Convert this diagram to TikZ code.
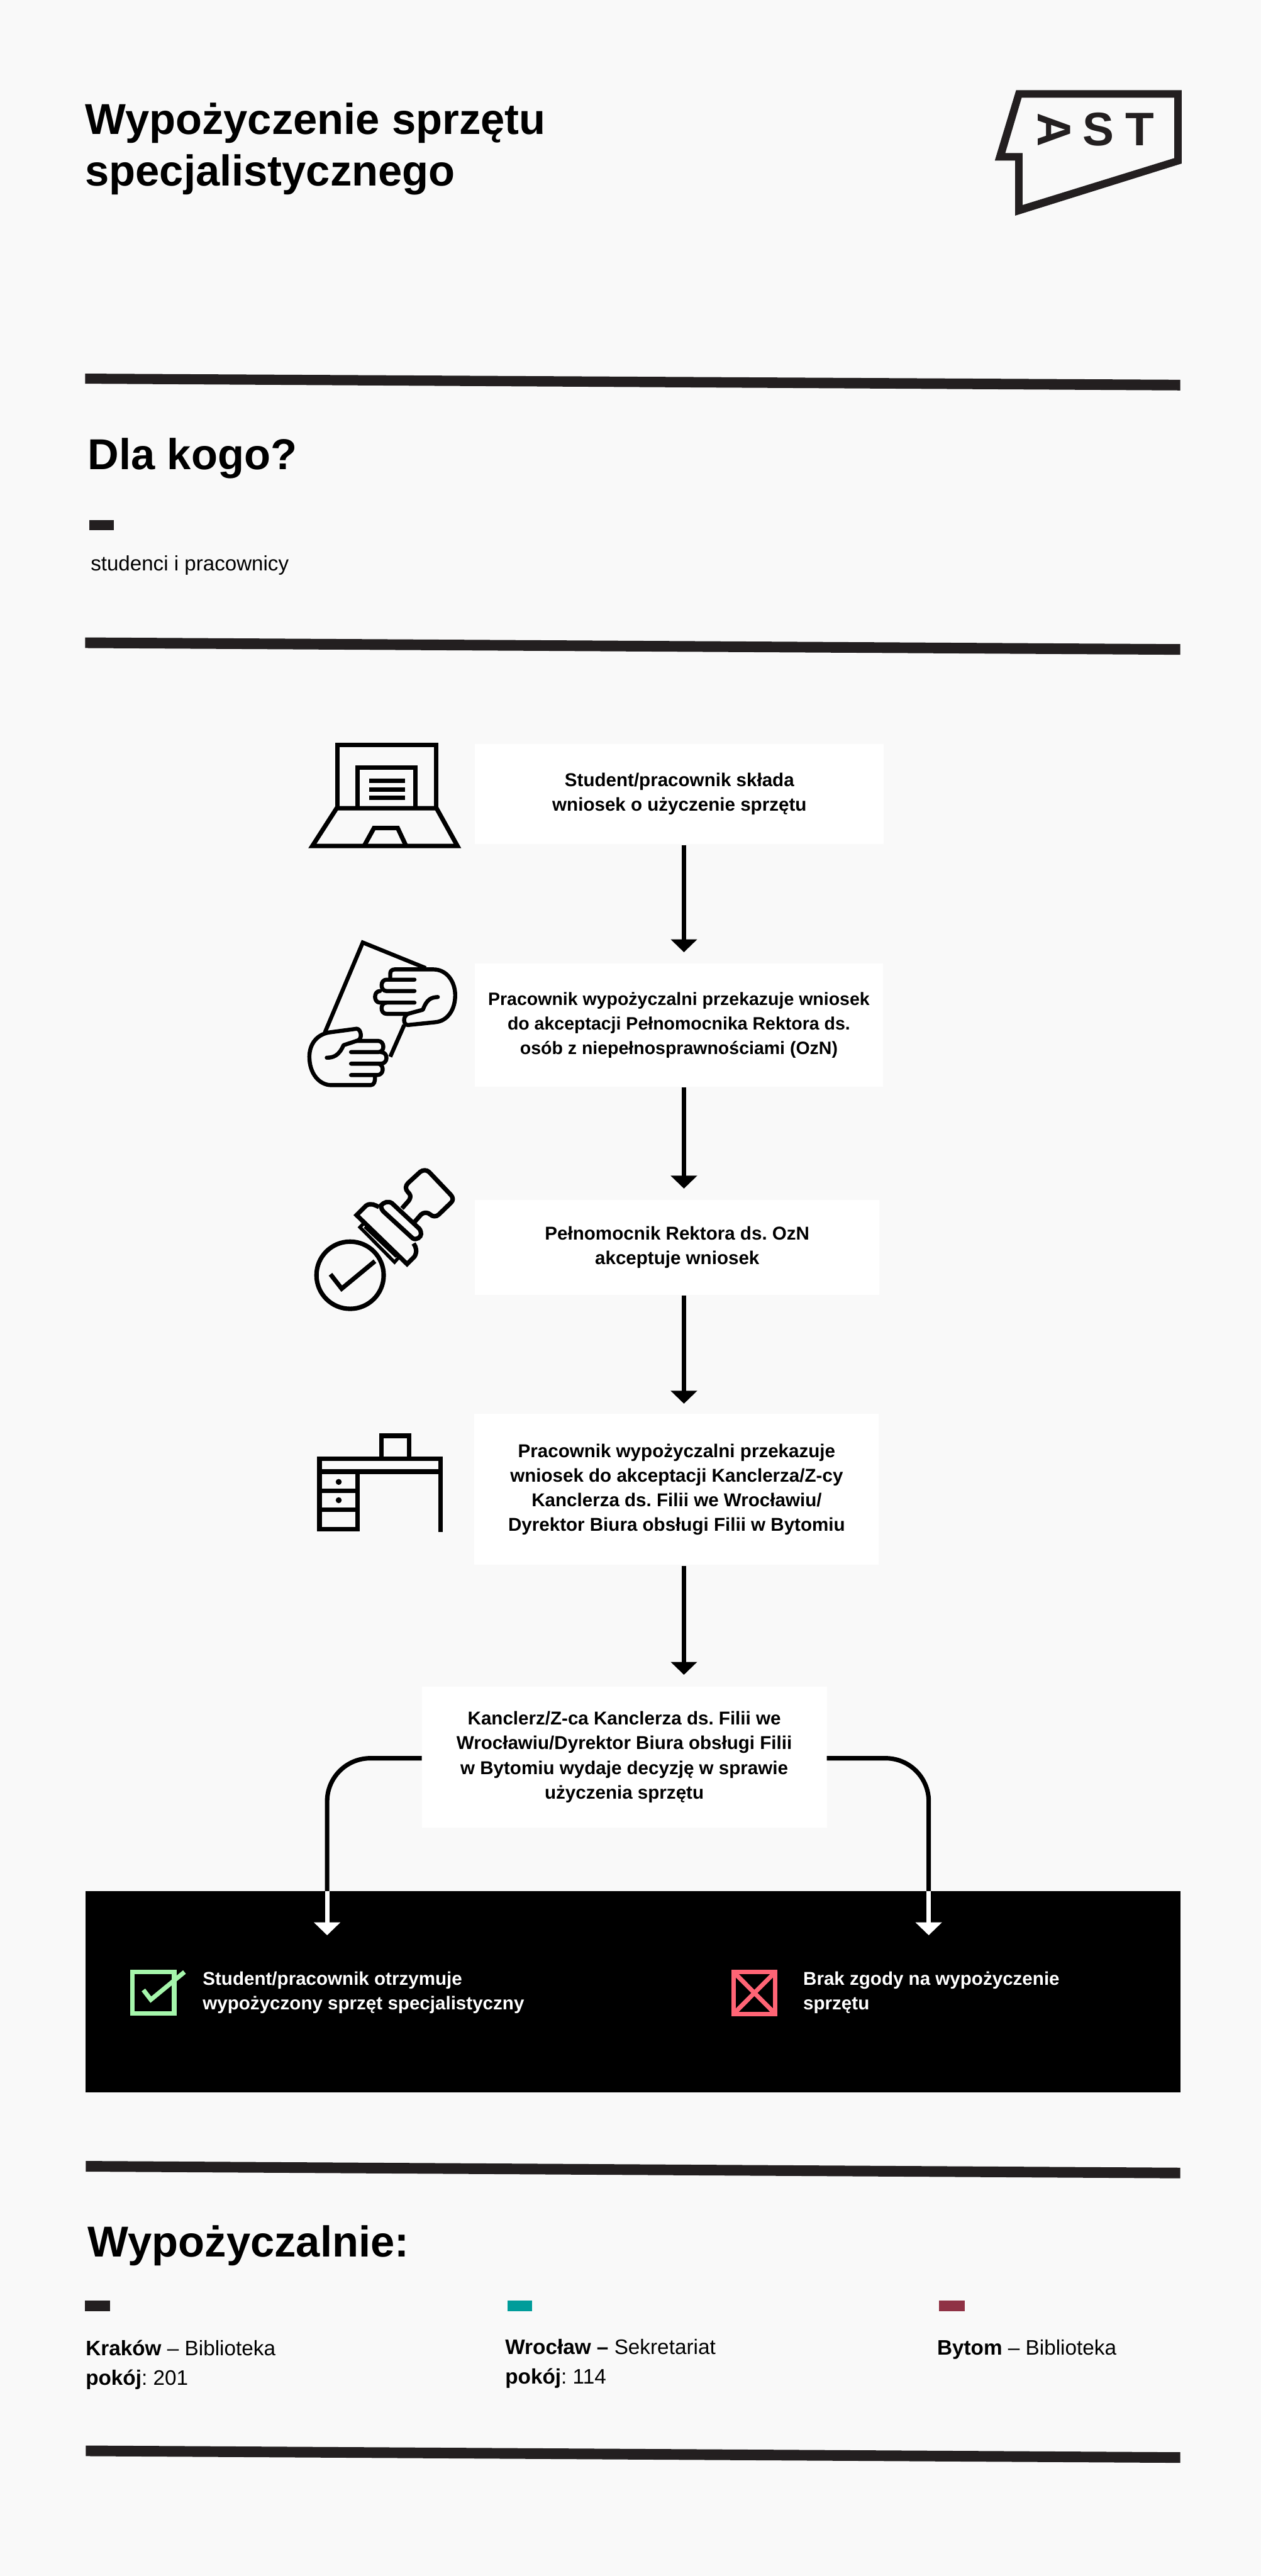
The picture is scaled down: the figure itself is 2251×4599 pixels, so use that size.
\documentclass[tikz,border=0pt]{standalone}
\usepackage{fontspec}
\setmainfont{Liberation Sans}
\usetikzlibrary{arrows.meta}
\frenchspacing
\definecolor{pagebg}{HTML}{F9F9F9}
\definecolor{ink}{HTML}{231F20}
\definecolor{okgreen}{HTML}{A5F6AB}
\definecolor{nored}{HTML}{FF6475}
\definecolor{teal1}{HTML}{009C9A}
\definecolor{maroon1}{HTML}{8F3245}
\tikzset{
  txt/.style={inner sep=0pt,outer sep=0pt,anchor=base west,align=left},
  bigt/.style={txt,font=\fontsize{38.6}{46}\selectfont\bfseries},
  bodyt/.style={txt,font=\fontsize{18.7}{26.2}\selectfont},
  paneltxt/.style={txt,text=white,font=\fontsize{16.6}{22}\selectfont\bfseries},
  stepbox/.style={fill=white,inner sep=0pt,outer sep=0pt,align=center,font=\fontsize{16.6}{22}\selectfont\bfseries},
  logot/.style={inner sep=0pt,outer sep=0pt,text=ink,font=\fontsize{42}{42}\selectfont\bfseries},
  rulebar/.style={fill=ink},
  flow/.style={line width=4pt,shorten <=0.75pt,-{Triangle[length=11.5pt,width=23pt]}},
  whiteflow/.style={line width=4pt,white,-{Triangle[length=11.5pt,width=23pt]}},
  flowline/.style={line width=4pt,rounded corners=38.5pt},
  icon/.style={line width=4pt,miter limit=10},
  handicon/.style={line width=3.6pt,line cap=round,line join=round},
}
\begin{document}
\begin{tikzpicture}[x=0.5pt,y=-0.5pt]
\fill[pagebg] (0,0) rectangle (2251,4599);
\useasboundingbox (0,0) rectangle (2251,4599);
% rules
\fill[rulebar] (152,667) -- (2107,678) -- (2107,697) -- (152,685) -- cycle;
\fill[rulebar] (152,1138) -- (2107,1150) -- (2107,1169) -- (152,1157) -- cycle;
\fill[rulebar] (153,3858) -- (2107,3870) -- (2107,3889) -- (153,3877) -- cycle;
\fill[rulebar] (153,4366) -- (2107,4378) -- (2107,4397) -- (153,4385) -- cycle;
% titles
\node[bigt] (title) at (152,332) {Wypożyczenie sprzętu\\specjalistycznego};
\node[bigt] (dla) at (157,838) {Dla kogo?};
\fill[ink] (159,928) rectangle (203,947);
\node[txt,font=\fontsize{18.6}{22}\selectfont] (kto) at (162,1019) {studenci i pracownicy};
% logo
\begin{scope}[shift={(1700,120)},scale=0.3333]
\fill[ink,even odd rule] (342,123) -- (1229,123) -- (1229,516) -- (337,795) -- (337,500) -- (228,500) -- cycle
  (372,163) -- (1189,163) -- (1189,487) -- (377,738) -- (377,460) -- (284,460) -- cycle;
\node[logot,rotate=-90] (lgA) at (547,334) {A};
\node[logot] (lgS) at (783,334) {S};
\node[logot] (lgT) at (1004,333) {T};
\end{scope}
% boxes
\node[stepbox,minimum width=365pt,minimum height=89.5pt] (b1) at (1213,1417.5) {Student/pracownik składa\\wniosek o użyczenie sprzętu};
\node[stepbox,minimum width=364pt,minimum height=110pt,font=\fontsize{16}{22}\selectfont\bfseries] (b2) at (1212,1830) {Pracownik wypożyczalni przekazuje wniosek\\do akceptacji Pełnomocnika Rektora ds.\\osób z niepełnosprawnościami (OzN)};
\node[stepbox,minimum width=361pt,minimum height=85pt] (b3) at (1209,2227) {Pełnomocnik Rektora ds. OzN\\akceptuje wniosek};
\node[stepbox,minimum width=361pt,minimum height=135pt] (b4) at (1208,2659) {Pracownik wypożyczalni przekazuje\\wniosek do akceptacji Kanclerza/Z-cy\\Kanclerza ds. Filii we Wrocławiu/\\Dyrektor Biura obsługi Filii w Bytomiu};
\node[stepbox,minimum width=361.5pt,minimum height=126pt] (b5) at (1114.5,3137) {Kanclerz/Z-ca Kanclerza ds. Filii we\\Wrocławiu/Dyrektor Biura obsługi Filii\\w Bytomiu wydaje decyzję w sprawie\\użyczenia sprzętu};
% panel
\fill[black] (153,3376) rectangle (2107,3736);
% arrows
\coordinate (t1) at (1221,1700);
\coordinate (t2) at (1221,2122);
\coordinate (t3) at (1221,2506);
\coordinate (t4) at (1221,2990);
\draw[flow] (b1.south -| t1) -- (t1);
\draw[flow] (b2.south -| t2) -- (t2);
\draw[flow] (b3.south -| t3) -- (t3);
\draw[flow] (b4.south -| t4) -- (t4);
\coordinate (ly) at (0,3139);
\coordinate (cl) at (584,3376);
\coordinate (cr) at (1658,3376);
\coordinate (tl) at (584,3455);
\coordinate (tr) at (1658,3455);
\draw[flowline] (b5.west |- ly) -| (cl);
\draw[flowline] (b5.east |- ly) -| (cr);
\draw[whiteflow] (cl) -- (tl);
\draw[whiteflow] (cr) -- (tr);
% panel content
\begin{scope}[shift={(200,3430)},scale=0.3333]
\draw[icon,okgreen] (110,271) rectangle (333,494);
\draw[icon,okgreen] (168,368) -- (208,420) -- (388,272);
\end{scope}
\begin{scope}[shift={(1270,3430)},scale=0.3333]
\draw[icon,nored] (119,272) rectangle (342,496);
\draw[icon,nored] (119,272) -- (342,496) (342,272) -- (119,496);
\end{scope}
\node[paneltxt] (pl) at (362,3588) {Student/pracownik otrzymuje\\wypożyczony sprzęt specjalistyczny};
\node[paneltxt] (pr) at (1434,3588) {Brak zgody na wypożyczenie\\sprzętu};
% laptop
\begin{scope}[shift={(520,1300)},scale=0.3333]
\draw[icon] (246,430) -- (246,90) -- (775,90) -- (775,430);
\draw[icon] (355,430) -- (355,211) -- (666,211) -- (666,430);
\draw[icon] (417,283) -- (608,283) (417,328) -- (608,328) (417,374) -- (608,374);
\draw[icon] (243,429) -- (778,429) -- (890,631) -- (113,631) -- cycle;
\draw[icon] (390,631) -- (443,535) -- (570,535) -- (615,631);
\end{scope}
% hands
\begin{scope}[shift={(520,1660)},scale=0.3333]
\draw[handicon,line cap=butt,miter limit=10,line join=miter] (720,205) -- (383,68) -- (180,550);
\draw[handicon,line cap=butt] (605,510) -- (530,680);
\draw[handicon] (660,267) -- (510,267) .. controls (475,267) and (475,328) .. (510,328) -- (660,328);
\draw[handicon] (660,390) -- (475,390) .. controls (440,390) and (440,328) .. (475,328);
\draw[handicon] (510,390) .. controls (475,390) and (475,450) .. (510,450) -- (625,450);
\draw[handicon] (530,267) -- (530,235) .. controls (530,220) and (540,212) .. (555,212) -- (760,212) .. controls (835,212) and (878,280) .. (878,350) .. controls (878,430) and (835,490) .. (770,495) -- (625,510) .. controls (600,510) and (595,465) .. (625,450) -- (705,428) .. controls (725,375) and (745,362) .. (785,360);
\draw[handicon] (350,530) -- (215,548) .. controls (140,555) and (97,610) .. (97,680) .. controls (97,770) and (150,832) .. (215,832) -- (425,832) .. controls (445,832) and (450,810) .. (448,785);
\draw[handicon] (350,530) .. controls (375,530) and (385,590) .. (350,595) -- (280,618) .. controls (255,675) and (225,685) .. (190,685);
\draw[handicon] (350,595) -- (465,595) .. controls (500,595) and (505,655) .. (465,655) -- (320,655);
\draw[handicon] (480,655) .. controls (520,655) and (520,717) .. (480,717) -- (320,717);
\draw[handicon] (470,717) .. controls (500,730) and (495,778) .. (460,778) -- (320,778);
\end{scope}
% stamp
\begin{scope}[shift={(530,2060)},scale=0.3333]
\draw[icon] (285,650) circle (180);
\draw[icon] (180,645) -- (240,722) -- (418,575);
\draw[icon,line join=round] (563,292) -- (600,250) .. controls (615,225) and (605,215) .. (595,205) .. controls (580,190) and (580,170) .. (597,155) -- (660,97) .. controls (675,85) and (695,85) .. (708,97) -- (825,220) .. controls (838,235) and (838,250) .. (825,262) -- (760,325) .. controls (745,340) and (725,335) .. (715,325) .. controls (700,312) and (680,312) .. (665,325) -- (630,365);
\draw[icon] (620,452) .. controls (640,465) and (665,445) .. (665,430) .. controls (665,410) and (655,400) .. (655,400) -- (510,265) .. controls (490,250) and (465,260) .. (452,275) .. controls (448,290) and (460,305) .. (465,310) -- cycle;
\draw[icon] (440,285) .. controls (420,275) and (395,260) .. (370,278) -- (320,328) -- (590,590) -- (630,550) .. controls (645,525) and (640,500) .. (625,480);
\draw[line width=3pt] (548,552) -- (523,580) -- (338,393) -- (358,372);
\draw[line width=2pt] (362,392) -- (532,552);
\end{scope}
% desk
\begin{scope}[shift={(540,2530)},scale=0.3333]
\draw[icon] (422,210) -- (422,100) -- (571,100) -- (571,210);
\draw[icon] (91,222) rectangle (740,292);
\draw[icon] (740,292) -- (740,617);
\draw[icon] (91,292) rectangle (295,600);
\draw[icon] (91,396) -- (295,396) (91,496) -- (295,496);
\fill (194,347) circle (16);
\fill (194,445) circle (16);
\end{scope}
% footer
\node[bigt] (wyp) at (157,4029) {Wypożyczalnie:};
\fill[ink] (152,4107) rectangle (197,4126);
\fill[teal1] (906,4107) rectangle (950,4126);
\fill[maroon1] (1676,4107) rectangle (1722,4126);
\node[bodyt] (kr) at (153,4258) {\textbf{Kraków} – Biblioteka\\\textbf{pokój}: 201};
\node[bodyt] (wr) at (902,4256) {\textbf{Wrocław –} Sekretariat\\\textbf{pokój}: 114};
\node[bodyt] (by) at (1673,4204) {\textbf{Bytom} – Biblioteka};
\end{tikzpicture}
\end{document}
